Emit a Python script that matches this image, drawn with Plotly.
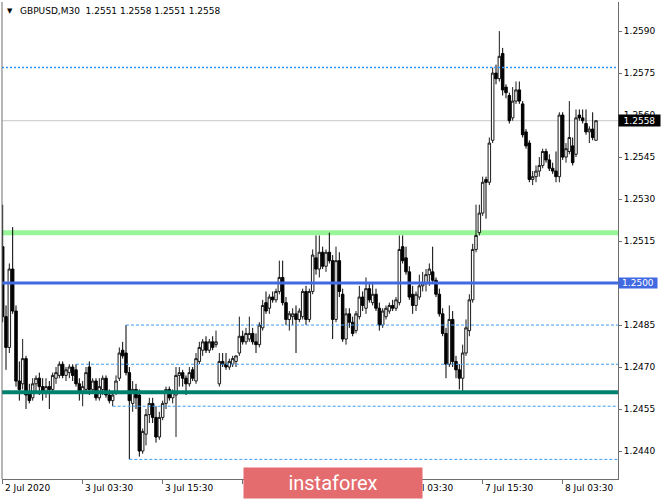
import plotly.graph_objects as go

# ---------------- data (GBPUSD M30, bar index 0 = 2 Jul 2020 15:30) ----------------
opens = [1.2513, 1.2488, 1.2477, 1.2505, 1.2490, 1.2465, 1.2464, 1.2473, 1.2461, 1.2459,
         1.2464, 1.2466, 1.2463, 1.2461, 1.2463, 1.2462, 1.2466, 1.2467, 1.2471, 1.2467,
         1.2468, 1.2470, 1.2469, 1.2464, 1.2461, 1.2462, 1.2470, 1.2462, 1.2465, 1.2459,
         1.2462, 1.2466, 1.2460, 1.2458, 1.2461, 1.2466, 1.2476, 1.2475, 1.2468, 1.2457,
         1.2462, 1.2460, 1.2440, 1.2446, 1.2453, 1.2457, 1.2452, 1.2445, 1.2452, 1.2457,
         1.2462, 1.2459, 1.2460, 1.2467, 1.2468, 1.2466, 1.2464, 1.2469, 1.2465, 1.2472,
         1.2476, 1.2479, 1.2476, 1.2479, 1.2478, 1.2464, 1.2472, 1.2471, 1.2470, 1.2471,
         1.2472, 1.2475, 1.2481, 1.2479, 1.2480, 1.2482, 1.2479, 1.2478, 1.2484, 1.2493,
         1.2491, 1.2495, 1.2494, 1.2497, 1.2502, 1.2493, 1.2487, 1.2488, 1.2489, 1.2487,
         1.2488, 1.2497, 1.2487, 1.2497, 1.2509, 1.2505, 1.2511, 1.2506, 1.2511, 1.2508,
         1.2487, 1.2508, 1.2496, 1.2480, 1.2489, 1.2486, 1.2483, 1.2488, 1.2495, 1.2491,
         1.2498, 1.2493, 1.2496, 1.2491, 1.2485, 1.2488, 1.2490, 1.2492, 1.2491, 1.2493,
         1.2513, 1.2509, 1.2504, 1.2496, 1.2492, 1.2495, 1.2499, 1.2500, 1.2503, 1.2504,
         1.2501, 1.2496, 1.2489, 1.2482, 1.2471, 1.2487, 1.2472, 1.2469, 1.2466, 1.2475,
         1.2483, 1.2494, 1.2512, 1.2518, 1.2525, 1.2537, 1.2536, 1.2551, 1.2575, 1.2573,
         1.2582, 1.2570, 1.2567, 1.2559, 1.2565, 1.2569, 1.2564, 1.2554, 1.2550, 1.2537,
         1.2538, 1.2540, 1.2542, 1.2547, 1.2544, 1.2541, 1.2540, 1.2538, 1.2560, 1.2545,
         1.2547, 1.2549, 1.2546, 1.2560, 1.2559, 1.2557, 1.2554, 1.2555, 1.2551]

highs = [1.2528, 1.2492, 1.2507, 1.2520, 1.2492, 1.2472, 1.2480, 1.2474, 1.2464, 1.2466,
         1.2467, 1.2468, 1.2466, 1.2466, 1.2465, 1.2468, 1.2470, 1.2472, 1.2472, 1.2470,
         1.2471, 1.2471, 1.2471, 1.2466, 1.2465, 1.2470, 1.2472, 1.2466, 1.2466, 1.2466,
         1.2467, 1.2467, 1.2462, 1.2461, 1.2467, 1.2477, 1.2479, 1.2485, 1.2470, 1.2465,
         1.2464, 1.2462, 1.2448, 1.2455, 1.2459, 1.2459, 1.2456, 1.2454, 1.2458, 1.2463,
         1.2463, 1.2462, 1.2470, 1.2470, 1.2469, 1.2467, 1.2470, 1.2470, 1.2475, 1.2479,
         1.2480, 1.2481, 1.2480, 1.2481, 1.2483, 1.2475, 1.2475, 1.2475, 1.2473, 1.2474,
         1.2474, 1.2488, 1.2483, 1.2484, 1.2488, 1.2484, 1.2482, 1.2486, 1.2494, 1.2497,
         1.2496, 1.2497, 1.2498, 1.2508, 1.2508, 1.2495, 1.2490, 1.2491, 1.2492, 1.2491,
         1.2498, 1.2499, 1.2498, 1.2512, 1.2517, 1.2517, 1.2513, 1.2512, 1.2518, 1.2510,
         1.2513, 1.2511, 1.2498, 1.2491, 1.2491, 1.2488, 1.2490, 1.2499, 1.2497, 1.2502,
         1.2500, 1.2500, 1.2498, 1.2493, 1.2491, 1.2492, 1.2493, 1.2494, 1.2495, 1.2517,
         1.2517, 1.2513, 1.2506, 1.2499, 1.2497, 1.2503, 1.2504, 1.2505, 1.2507, 1.2513,
         1.2502, 1.2498, 1.2491, 1.2484, 1.2492, 1.2490, 1.2474, 1.2471, 1.2478, 1.2487,
         1.2496, 1.2514, 1.2528, 1.2528, 1.2538, 1.2538, 1.2552, 1.2577, 1.2578, 1.2590,
         1.2584, 1.2571, 1.2568, 1.2570, 1.2572, 1.2572, 1.2565, 1.2555, 1.2551, 1.2540,
         1.2542, 1.2545, 1.2548, 1.2548, 1.2546, 1.2543, 1.2547, 1.2561, 1.2561, 1.2550,
         1.2565, 1.2552, 1.2562, 1.2562, 1.2562, 1.2562, 1.2556, 1.2561, 1.2558]

lows = [1.2486, 1.2469, 1.2475, 1.2489, 1.2463, 1.2458, 1.2462, 1.2455, 1.2457, 1.2458,
        1.2461, 1.2460, 1.2458, 1.2459, 1.2455, 1.2461, 1.2464, 1.2466, 1.2466, 1.2465,
        1.2466, 1.2465, 1.2463, 1.2458, 1.2456, 1.2461, 1.2460, 1.2461, 1.2458, 1.2458,
        1.2460, 1.2459, 1.2457, 1.2456, 1.2460, 1.2465, 1.2473, 1.2467, 1.2437, 1.2454,
        1.2455, 1.2438, 1.2439, 1.2442, 1.2450, 1.2450, 1.2443, 1.2444, 1.2451, 1.2455,
        1.2458, 1.2457, 1.2445, 1.2463, 1.2463, 1.2460, 1.2463, 1.2465, 1.2464, 1.2471,
        1.2474, 1.2475, 1.2475, 1.2476, 1.2477, 1.2463, 1.2470, 1.2469, 1.2469, 1.2470,
        1.2470, 1.2474, 1.2478, 1.2478, 1.2479, 1.2478, 1.2475, 1.2477, 1.2483, 1.2489,
        1.2489, 1.2493, 1.2493, 1.2496, 1.2492, 1.2485, 1.2483, 1.2485, 1.2475, 1.2486,
        1.2487, 1.2485, 1.2486, 1.2496, 1.2503, 1.2502, 1.2505, 1.2504, 1.2507, 1.2480,
        1.2486, 1.2495, 1.2479, 1.2478, 1.2484, 1.2481, 1.2482, 1.2487, 1.2490, 1.2489,
        1.2493, 1.2492, 1.2490, 1.2483, 1.2484, 1.2487, 1.2489, 1.2490, 1.2490, 1.2492,
        1.2507, 1.2503, 1.2494, 1.2489, 1.2490, 1.2494, 1.2497, 1.2497, 1.2499, 1.2500,
        1.2495, 1.2488, 1.2481, 1.2466, 1.2470, 1.2470, 1.2466, 1.2462, 1.2461, 1.2474,
        1.2481, 1.2493, 1.2511, 1.2517, 1.2524, 1.2523, 1.2535, 1.2550, 1.2571, 1.2572,
        1.2567, 1.2566, 1.2557, 1.2558, 1.2564, 1.2564, 1.2552, 1.2548, 1.2536, 1.2535,
        1.2536, 1.2538, 1.2541, 1.2543, 1.2540, 1.2539, 1.2536, 1.2536, 1.2544, 1.2543,
        1.2546, 1.2542, 1.2545, 1.2558, 1.2557, 1.2553, 1.2550, 1.2551, 1.2551]

closes = [1.2488, 1.2477, 1.2505, 1.2490, 1.2465, 1.2462, 1.2473, 1.2460, 1.2458, 1.2464,
          1.2466, 1.2463, 1.2461, 1.2463, 1.2462, 1.2467, 1.2468, 1.2471, 1.2467, 1.2469,
          1.2470, 1.2467, 1.2464, 1.2461, 1.2463, 1.2468, 1.2462, 1.2465, 1.2459, 1.2463,
          1.2466, 1.2460, 1.2458, 1.2460, 1.2465, 1.2475, 1.2474, 1.2468, 1.2458, 1.2462,
          1.2459, 1.2440, 1.2447, 1.2453, 1.2457, 1.2452, 1.2445, 1.2452, 1.2457, 1.2462,
          1.2459, 1.2461, 1.2467, 1.2468, 1.2466, 1.2464, 1.2468, 1.2466, 1.2473, 1.2477,
          1.2479, 1.2476, 1.2479, 1.2477, 1.2479, 1.2472, 1.2471, 1.2470, 1.2472, 1.2473,
          1.2474, 1.2481, 1.2479, 1.2482, 1.2482, 1.2479, 1.2478, 1.2485, 1.2492, 1.2490,
          1.2495, 1.2494, 1.2497, 1.2502, 1.2493, 1.2487, 1.2489, 1.2489, 1.2487, 1.2490,
          1.2497, 1.2487, 1.2497, 1.2510, 1.2505, 1.2511, 1.2506, 1.2511, 1.2508, 1.2487,
          1.2508, 1.2497, 1.2480, 1.2489, 1.2486, 1.2482, 1.2489, 1.2495, 1.2492, 1.2498,
          1.2494, 1.2496, 1.2491, 1.2485, 1.2490, 1.2491, 1.2492, 1.2491, 1.2494, 1.2512,
          1.2508, 1.2504, 1.2495, 1.2492, 1.2496, 1.2499, 1.2500, 1.2503, 1.2505, 1.2501,
          1.2496, 1.2489, 1.2482, 1.2471, 1.2487, 1.2472, 1.2469, 1.2466, 1.2475, 1.2484,
          1.2494, 1.2512, 1.2517, 1.2525, 1.2536, 1.2536, 1.2550, 1.2575, 1.2573, 1.2581,
          1.2569, 1.2568, 1.2558, 1.2565, 1.2569, 1.2565, 1.2553, 1.2549, 1.2537, 1.2538,
          1.2540, 1.2542, 1.2547, 1.2544, 1.2541, 1.2540, 1.2538, 1.2560, 1.2545, 1.2548,
          1.2552, 1.2543, 1.2559, 1.2559, 1.2558, 1.2554, 1.2555, 1.2552, 1.2558]

x_tick_bars = [0, 24, 48, 72, 96, 120, 144, 168]
x_tick_labels = ["2 Jul 2020", "3 Jul 03:30", "3 Jul 15:30", "6 Jul 03:30",
                 "6 Jul 15:30", "7 Jul 03:30", "7 Jul 15:30", "8 Jul 03:30"]
y_ticks = [1.2440, 1.2455, 1.2470, 1.2485, 1.2500, 1.2515, 1.2530, 1.2545, 1.2560, 1.2575, 1.2590]

symbol = "GBPUSD,M30"
bid_price = 1.2558
resistance_dotted = 1.2577
green_level = 1.2518
blue_level = 1.2500
teal_level = 1.2461
dashed_levels = [1.2485, 1.2471, 1.2456, 1.2437]
dashed_start_bars = [37, 22, 33, 38]

# ---------------- figure ----------------
X_MIN, X_MAX = -0.2, 184.6
bars = list(range(len(opens)))
FONT = "DejaVu Sans"
AXIS_COL = "#6e6e6e"

fig = go.Figure()
fig.add_trace(go.Candlestick(
    x=bars, open=opens, high=highs, low=lows, close=closes,
    increasing=dict(line=dict(color="#1a1a1a", width=1), fillcolor="#ffffff"),
    decreasing=dict(line=dict(color="#000000", width=1), fillcolor="#000000"),
    whiskerwidth=0, showlegend=False, hoverinfo="skip",
))

shapes = []
# background levels
shapes.append(dict(type="line", xref="x", yref="y", x0=X_MIN, x1=X_MAX, y0=bid_price, y1=bid_price,
                   line=dict(color="#c8c8c8", width=1), layer="below"))
shapes.append(dict(type="line", xref="x", yref="y", x0=X_MIN, x1=X_MAX, y0=green_level, y1=green_level,
                   line=dict(color="#98f598", width=5), layer="below"))
# foreground levels
shapes.append(dict(type="line", xref="x", yref="y", x0=X_MIN, x1=X_MAX,
                   y0=resistance_dotted, y1=resistance_dotted,
                   line=dict(color="#2e93ff", width=1.3, dash="2px,2px"), layer="above"))
shapes.append(dict(type="line", xref="x", yref="y", x0=X_MIN, x1=X_MAX, y0=blue_level, y1=blue_level,
                   line=dict(color="#4169e1", width=3), layer="above"))
shapes.append(dict(type="line", xref="x", yref="y", x0=X_MIN, x1=X_MAX, y0=teal_level, y1=teal_level,
                   line=dict(color="#00806e", width=4), layer="above"))
for lvl, start in zip(dashed_levels, dashed_start_bars):
    shapes.append(dict(type="line", xref="x", yref="y", x0=start, x1=X_MAX, y0=lvl, y1=lvl,
                       line=dict(color="#3d9cf5", width=1, dash="3px,2px"), layer="above"))
# left frame line
shapes.append(dict(type="line", xref="paper", yref="paper", x0=0, x1=0, y0=0, y1=1,
                   line=dict(color=AXIS_COL, width=1), layer="above"))

annotations = []
o, h, l, c = opens[-1], highs[-1], lows[-1], closes[-1]
annotations.append(dict(xref="paper", yref="paper", x=0.005, y=0.981, xanchor="left", yanchor="middle",
                        text="▼", showarrow=False, font=dict(family=FONT, size=7, color="#000000")))
annotations.append(dict(xref="paper", yref="paper", x=0.026, y=0.981, xanchor="left", yanchor="middle",
                        text=f"{symbol}\u00a0\u00a0{o:.4f} {h:.4f} {l:.4f} {c:.4f}", showarrow=False,
                        font=dict(family=FONT, size=9, color="#000000")))
for b, lab in zip(x_tick_bars, x_tick_labels):
    annotations.append(dict(xref="x", yref="paper", x=b, y=0, xanchor="left", yanchor="middle",
                            xshift=0, yshift=-9, text=lab, showarrow=False,
                            font=dict(family=FONT, size=9, color="#000000")))
# price labels on the right scale
annotations.append(dict(xref="paper", yref="y", x=1, y=bid_price, xanchor="left", yanchor="middle",
                        text=f"{bid_price:.4f}", showarrow=False, width=41, height=11, borderpad=0,
                        bgcolor="#000000", font=dict(family=FONT, size=9, color="#ffffff")))
annotations.append(dict(xref="paper", yref="y", x=1, y=blue_level, xanchor="left", yanchor="middle",
                        text=f"{blue_level:.4f}", showarrow=False, width=38, height=10, borderpad=0,
                        bgcolor="#4169e1", font=dict(family=FONT, size=9, color="#ffffff")))
# watermark
annotations.append(dict(xref="paper", yref="paper", x=(333 - 2) / 616, y=0, xanchor="center",
                        yanchor="middle", yshift=-4, text="instaforex", showarrow=False,
                        width=178, height=30, borderpad=0, bgcolor="#e46b6e",
                        font=dict(family="Roboto", size=20, color="#ffffff")))

fig.update_layout(
    width=665, height=499,
    margin=dict(l=2, r=47, t=2, b=20),
    paper_bgcolor="#ffffff", plot_bgcolor="#ffffff",
    showlegend=False, boxgap=0.25, boxgroupgap=0,
    shapes=shapes, annotations=annotations,
    xaxis=dict(range=[X_MIN, X_MAX], showgrid=False, zeroline=False, showline=True,
               linecolor=AXIS_COL, linewidth=1, ticks="outside", ticklen=4, tickcolor=AXIS_COL,
               tickvals=x_tick_bars, ticktext=["" for _ in x_tick_bars],
               rangeslider=dict(visible=False), fixedrange=True),
    yaxis=dict(range=[1.2430, 1.26004], side="right", showgrid=False, zeroline=False,
               showline=True, linecolor=AXIS_COL, linewidth=1, ticks="outside", ticklen=3,
               tickcolor=AXIS_COL, tickvals=y_ticks, ticktext=[f"{v:.4f}" for v in y_ticks],
               tickfont=dict(family=FONT, size=9, color="#000000"), fixedrange=True),
)

fig.write_html("out.html", config={"displayModeBar": False},
               post_script="document.body.style.margin='0';document.body.style.overflow='hidden';")
